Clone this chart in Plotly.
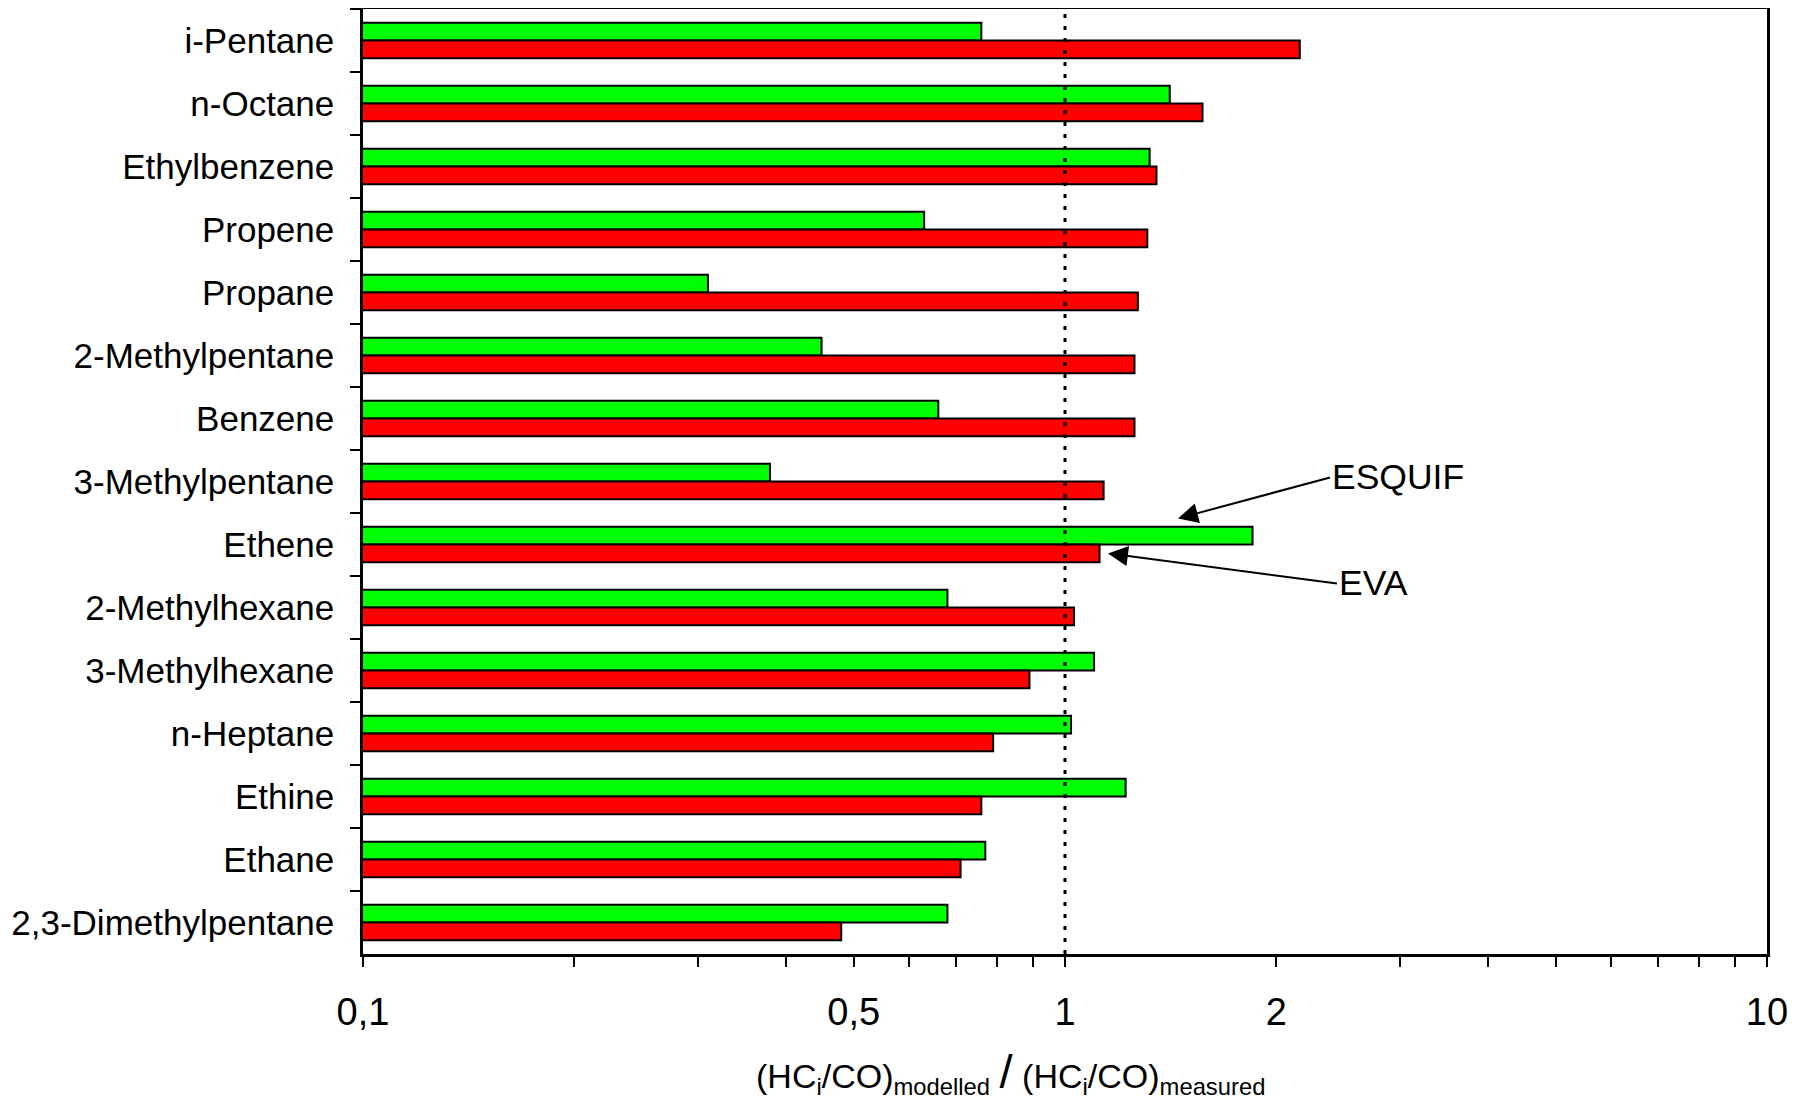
import plotly.graph_objects as go

categories = ["i-Pentane", "n-Octane", "Ethylbenzene", "Propene", "Propane",
              "2-Methylpentane", "Benzene", "3-Methylpentane", "Ethene",
              "2-Methylhexane", "3-Methylhexane", "n-Heptane", "Ethine",
              "Ethane", "2,3-Dimethylpentane"]
esquif = [0.76, 1.41, 1.32, 0.63, 0.31, 0.45, 0.66, 0.38, 1.85, 0.68, 1.10, 1.02, 1.22, 0.77, 0.68]
eva = [2.16, 1.57, 1.35, 1.31, 1.27, 1.256, 1.256, 1.135, 1.12, 1.03, 0.89, 0.79, 0.76, 0.71, 0.48]
reference_ratio = 1

tick_vals = [0.1, 0.5, 1, 2, 10]
tick_text = ["0,1", "0,5", "1", "2", "10"]
minor_vals = [0.2, 0.3, 0.4, 0.6, 0.7, 0.8, 0.9, 3, 4, 5, 6, 7, 8, 9]

FONT = "Liberation Sans, Arial, sans-serif"

fig = go.Figure()
fig.add_trace(go.Bar(y=categories, x=esquif, orientation="h", name="ESQUIF",
                     marker=dict(color="#00FF00", line=dict(color="black", width=2))))
fig.add_trace(go.Bar(y=categories, x=eva, orientation="h", name="EVA",
                     marker=dict(color="#FF0000", line=dict(color="black", width=2))))

fig.add_shape(type="line", xref="x", yref="paper",
              x0=reference_ratio, x1=reference_ratio, y0=0, y1=1,
              line=dict(color="black", width=3, dash="4px,8px"), layer="above")

fig.update_layout(
    width=1798, height=1092,
    margin=dict(l=355, r=39, t=1, b=146),
    paper_bgcolor="white", plot_bgcolor="white",
    barmode="group", bargap=0.44, bargroupgap=0,
    showlegend=False,
    font=dict(family=FONT, color="black"),
    xaxis=dict(type="log", range=[-1, 1], tickmode="array",
               tickvals=tick_vals, ticktext=tick_text,
               ticks="outside", ticklen=10, tickwidth=2, tickcolor="black",
               minor=dict(tickmode="array", tickvals=minor_vals, ticks="outside",
                          ticklen=10, tickwidth=2, tickcolor="black", showgrid=False),
               showline=True, linewidth=2.5, linecolor="black", mirror=True,
               showgrid=False, zeroline=False, automargin=False,
               tickfont=dict(size=38, family=FONT, color="black"),
               ticklabelstandoff=13),
    yaxis=dict(type="category", categoryorder="array", categoryarray=categories,
               autorange="reversed", tickson="boundaries",
               ticks="outside", ticklen=10, tickwidth=2, tickcolor="black",
               showline=True, linewidth=2.5, linecolor="black", mirror=True,
               showgrid=False, zeroline=False, automargin=False,
               tickfont=dict(size=35, family=FONT, color="black"),
               ticklabelstandoff=19),
)

fig.add_annotation(
    xref="paper", yref="paper", x=0.461, y=-0.125, xanchor="center", yanchor="middle",
    text="(HC<sub>i</sub>/CO)<sub>modelled</sub> <span style='font-size:47px'>/</span> (HC<sub>i</sub>/CO)<sub>measured</sub>",
    showarrow=False, font=dict(size=34, family=FONT, color="black"))

fig.add_annotation(
    xref="paper", yref="paper", x=0.5805, y=0.4609,
    ax=152, ay=-41, axref="pixel", ayref="pixel",
    text="ESQUIF", xanchor="left", yanchor="middle",
    showarrow=True, arrowhead=2, arrowsize=2, arrowwidth=2, arrowcolor="black",
    standoff=0, font=dict(size=35.5, family=FONT, color="black"))

fig.add_annotation(
    xref="paper", yref="paper", x=0.5306, y=0.4239,
    ax=229, ay=30, axref="pixel", ayref="pixel",
    text="EVA", xanchor="left", yanchor="middle",
    showarrow=True, arrowhead=2, arrowsize=2, arrowwidth=2, arrowcolor="black",
    standoff=0, font=dict(size=35.5, family=FONT, color="black"))

fig.write_html("out.html")
